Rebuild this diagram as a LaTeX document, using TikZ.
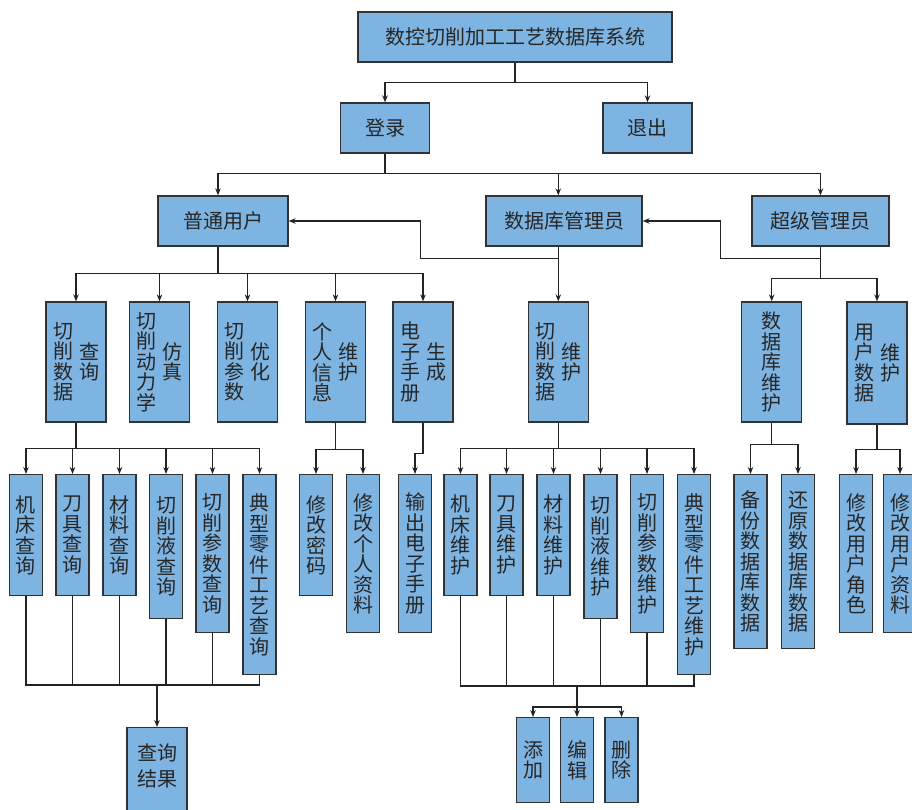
\documentclass[tikz,border=0pt]{standalone}
\usepackage{fontspec}
\usetikzlibrary{arrows.meta}
\newfontfamily\cjk{Noto Sans CJK SC}
\definecolor{boxfill}{RGB}{126,180,226}
\definecolor{boxline}{RGB}{50,50,50}
\definecolor{linkc}{RGB}{35,35,35}
\newcommand{\vcol}[1]{\parbox[c]{21pt}{\centering #1}}
\newcommand{\twocol}[2]{\vcol{#1}\hspace{5pt}\vcol{#2}}
\tikzset{
  box/.style={draw=boxline, fill=boxfill, line width=1.3pt, inner sep=0pt,
    text=black!85, font=\cjk\fontsize{20}{20.5}\selectfont},
  mid/.style={box, minimum width=60, minimum height=120},
  leaf/.style={box, anchor=north, minimum width=33},
  link/.style={draw=linkc, line width=1.1pt},
  arr/.style={link, -{Stealth[length=7pt,width=5.5pt]}}
}
\begin{document}
\begin{tikzpicture}[x=1pt,y=-1pt]
    \useasboundingbox (0,0) rectangle (912,809);
    \node[box, minimum width=314, minimum height=50] (sys) at (515,37) {数控切削加工工艺数据库系统};
    \node[box, minimum width=89, minimum height=50] (login) at (385,128) {登录};
    \node[box, minimum width=89, minimum height=50] (quit) at (647.5,128) {退出};
    \node[box, minimum width=130, minimum height=50] (user) at (223,221) {普通用户};
    \node[box, minimum width=156, minimum height=50] (dba) at (564,221) {数据库管理员};
    \node[box, minimum width=137, minimum height=50] (admin) at (820.5,221) {超级管理员};

    \node[mid] (cxq) at (76,362) {\twocol{切\\削\\数\\据}{查\\询}};
    \node[mid] (dlx) at (159.5,362) {\twocol{切\\削\\动\\力\\学}{仿\\真}};
    \node[mid] (yh) at (247.5,362) {\twocol{切\\削\\参\\数}{优\\化}};
    \node[mid] (grxx) at (335.5,362) {\twocol{个\\人\\信\\息}{维\\护}};
    \node[mid] (scsc) at (423,362) {\twocol{电\\子\\手\\册}{生\\成}};
    \node[mid] (cwh) at (558.3,362) {\twocol{切\\削\\数\\据}{维\\护}};
    \node[mid] (dbwh) at (771.7,362) {\vcol{数\\据\\库\\维\\护}};
    \node[mid, minimum height=122] (yhwh) at (877,363) {\twocol{用\\户\\数\\据}{维\\护}};

    \node[leaf, minimum height=121] (q1) at (26,474) {\vcol{机\\床\\查\\询}};
    \node[leaf, minimum height=121] (q2) at (72.5,474) {\vcol{刀\\具\\查\\询}};
    \node[leaf, minimum height=121] (q3) at (119.5,474) {\vcol{材\\料\\查\\询}};
    \node[leaf, minimum height=144] (q4) at (166,474) {\vcol{切\\削\\液\\查\\询}};
    \node[leaf, minimum height=158] (q5) at (212.5,474) {\vcol{切\\削\\参\\数\\查\\询}};
    \node[leaf, minimum height=200] (q6) at (259.5,474) {\vcol{典\\型\\零\\件\\工\\艺\\查\\询}};
    \node[leaf, minimum height=121] (p1) at (316,474) {\vcol{修\\改\\密\\码}};
    \node[leaf, minimum height=158] (p2) at (363,474) {\vcol{修\\改\\个\\人\\资\\料}};
    \node[leaf, minimum height=158] (hb) at (415,474) {\vcol{输\\出\\电\\子\\手\\册}};
    \node[leaf, minimum height=121] (w1) at (460.5,474) {\vcol{机\\床\\维\\护}};
    \node[leaf, minimum height=121] (w2) at (506.5,474) {\vcol{刀\\具\\维\\护}};
    \node[leaf, minimum height=121] (w3) at (553.5,474) {\vcol{材\\料\\维\\护}};
    \node[leaf, minimum height=144] (w4) at (600.5,474) {\vcol{切\\削\\液\\维\\护}};
    \node[leaf, minimum height=158] (w5) at (647,474) {\vcol{切\\削\\参\\数\\维\\护}};
    \node[leaf, minimum height=200] (w6) at (694,474) {\vcol{典\\型\\零\\件\\工\\艺\\维\\护}};
    \node[leaf, minimum height=174] (b1) at (750.5,474) {\vcol{备\\份\\数\\据\\库\\数\\据}};
    \node[leaf, minimum height=174] (b2) at (798,474) {\vcol{还\\原\\数\\据\\库\\数\\据}};
    \node[leaf, minimum height=158] (u1) at (856,474) {\vcol{修\\改\\用\\户\\角\\色}};
    \node[leaf, minimum height=158] (u2) at (900,474) {\vcol{修\\改\\用\\户\\资\\料}};

    \node[box, anchor=north, minimum width=60, minimum height=92, align=center, text depth=17pt,
      font=\cjk\fontsize{20}{26.5}\selectfont] (res) at (157,727) {查询\\结果};
    \node[leaf, minimum height=85] (add) at (533,717) {\vcol{添\\加}};
    \node[leaf, minimum height=85] (edit) at (577,717) {\vcol{编\\辑}};
    \node[leaf, minimum height=85] (del) at (621.5,717) {\vcol{删\\除}};

    \draw[link] (sys.south) -- ++(0,20) coordinate (j0);
    \draw[arr] (j0) -| (login.north);
    \draw[arr] (j0) -| (quit.north);
    \draw[link] (login.south) -- ++(0,20) coordinate (j1);
    \draw[arr] (j1) -| ([xshift=-5pt]user.north);
    \draw[arr] (j1) -| (dba.north -| cwh.north);
    \draw[arr] (j1) -| (admin.north);

    \draw[arr] (dba.south -| cwh.north) -- (cwh.north);
    \draw[arr] (dba.south -| cwh.north) ++(0,12) coordinate (k1) -| ([xshift=132pt]user.east) -- (user.east);
    \draw[link] (admin.south) -- ++(0,32) coordinate (j3);
    \draw[arr] (admin.south) ++(0,12) coordinate (k2) -| ([xshift=78pt]dba.east) -- (dba.east);
    \draw[arr] (j3) -| (dbwh.north);
    \draw[arr] (j3) -| (yhwh.north);

    \draw[link] ([xshift=-5pt]user.south) -- ++(0,27) coordinate (j2);
    \draw[arr] (j2) -| (cxq.north);
    \draw[arr] (j2) -| (dlx.north);
    \draw[arr] (j2) -| (yh.north);
    \draw[arr] (j2) -| (grxx.north);
    \draw[arr] (j2) -| (scsc.north);

    \draw[link] (cxq.south) -- ++(0,26) coordinate (j4);
    \draw[arr] (j4) -| (q1.north);
    \draw[arr] (j4) -| (q2.north);
    \draw[arr] (j4) -| (q3.north);
    \draw[arr] (j4) -| (q4.north);
    \draw[arr] (j4) -| (q5.north);
    \draw[arr] (j4) -| (q6.north);
    \draw[link] (grxx.south) -- ++(0,27) coordinate (j5);
    \draw[arr] (j5) -| (p1.north);
    \draw[arr] (j5) -| (p2.north);
    \draw[arr] (scsc.south) -- ++(0,31) -| (hb.north);

    \draw[link] (cwh.south) -- ++(0,26) coordinate (j6);
    \draw[arr] (j6) -| (w1.north);
    \draw[arr] (j6) -| (w2.north);
    \draw[arr] (j6) -| (w3.north);
    \draw[arr] (j6) -| (w4.north);
    \draw[arr] (j6) -| (w5.north);
    \draw[arr] (j6) -| (w6.north);
    \draw[link] (dbwh.south) -- ++(0,22) coordinate (j7);
    \draw[arr] (j7) -| (b1.north);
    \draw[arr] (j7) -| (b2.north);
    \draw[link] (yhwh.south) -- ++(0,25) coordinate (j8);
    \draw[arr] (j8) -| (u1.north);
    \draw[arr] (j8) -| (u2.north);

    \coordinate (mq) at (157,685);
    \draw[link] (q1.south) |- (q6.south |- mq) -- (q6.south);
    \draw[link] (q2.south) -- (q2.south |- mq);
    \draw[link] (q3.south) -- (q3.south |- mq);
    \draw[link] (q4.south) -- (q4.south |- mq);
    \draw[link] (q5.south) -- (q5.south |- mq);
    \draw[arr] (mq) -- (res.north);

    \coordinate (mw) at (577,686);
    \draw[link] (w1.south) |- (w6.south |- mw) -- (w6.south);
    \draw[link] (w2.south) -- (w2.south |- mw);
    \draw[link] (w3.south) -- (w3.south |- mw);
    \draw[link] (w4.south) -- (w4.south |- mw);
    \draw[link] (w5.south) -- (w5.south |- mw);
    \draw[link] (mw) -- ++(0,21) coordinate (j9);
    \draw[arr] (j9) -| (add.north);
    \draw[arr] (j9) -| (edit.north);
    \draw[arr] (j9) -| (del.north);
\end{tikzpicture}
\end{document}
